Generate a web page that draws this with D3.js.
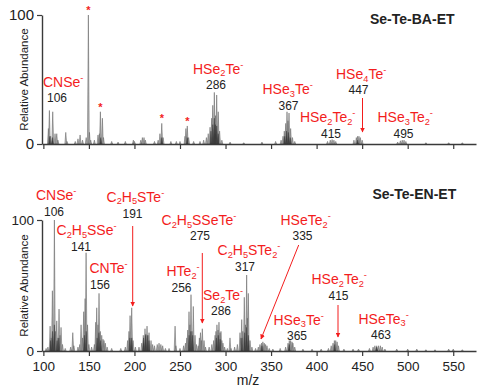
<!DOCTYPE html>
<html>
<head>
<meta charset="utf-8">
<script src="https://cdn.jsdelivr.net/npm/d3@7"></script>
<style>
  body { margin: 0; background: #fff; }
  svg { display: block; font-family: Arial, 'Liberation Sans', sans-serif; }
</style>
</head>
<body>
<svg id="chart" width="488" height="387"></svg>
<script>
// m/z ticks shared by both panels
const xTicks = [100, 150, 200, 250, 300, 350, 400, 450, 500, 550]
const yTicks = [0, 100]

// Se-Te-BA-ET spectrum, [m/z, relative abundance]
const baPeaks = [
  [105.5, 12], [106.6, 26], [108, 6], [110.3, 25], [112.8, 8], [114.7, 8], [116, 3],
  [124.6, 9], [126, 2], [135, 2], [138, 4], [140.3, 7], [143, 3], [147, 5],
  [149.4, 100], [150.6, 9], [152, 3], [156, 3], [160, 7], [161.5, 8], [162.6, 25],
  [164.8, 20], [166, 5], [175, 2], [182, 1.5], [190, 2], [198.8, 3], [200, 2],
  [207, 3], [208.7, 5], [210.5, 5], [212, 3], [222, 2], [226, 3], [228, 8], [230, 16],
  [231.5, 5], [240, 2], [246, 2], [250, 2], [255.5, 6], [256.5, 12], [258, 14],
  [259.5, 5], [265, 2], [272, 2], [276, 3], [279, 5], [281, 8], [283, 13], [284.8, 20],
  [286, 30], [287.7, 40], [289, 22], [290.3, 38], [292, 25], [293.5, 10], [296, 3],
  [305, 1.5], [320, 1], [340, 1.5], [355, 2], [361, 3], [363.1, 6], [364.5, 10],
  [366.1, 16], [367.5, 25], [368.6, 18], [369.7, 24], [371.5, 12], [373.5, 5], [376, 2],
  [412, 2], [415, 3], [417, 3.5], [419, 3], [421, 2], [441, 3], [443.6, 5], [445, 6],
  [446.5, 6], [448, 5], [450, 3], [489, 1.5], [492, 2.5], [494, 3], [496, 3], [498, 2],
  [520, 1], [545, 1], [560, 1],
]
const baInner = [
  [107, 6], [110, 5], [163, 5], [230, 5], [258, 5], [284, 10], [286, 15], [287.7, 20],
  [289, 15], [290.3, 14], [292, 8], [365, 6], [367, 10], [369, 9], [371, 5], [445, 3],
]
const baStars = [149.4, 162.6, 230, 258]

// Se-Te-EN-ET spectrum
const enPeaks = [
  [103, 2], [105, 3], [107.4, 19], [108.6, 10], [109.9, 46], [112.1, 100], [113.2, 15],
  [114.7, 23], [116, 10], [117.2, 32], [118.3, 12], [119.4, 18], [121, 5], [124, 2],
  [130, 3], [132.3, 14], [133.5, 4], [138, 3], [140, 5], [141.4, 20], [143, 10],
  [144.3, 30], [145.8, 40], [146.9, 75], [148.5, 20], [150, 5], [153, 3], [156, 5],
  [157.5, 22], [158.6, 33], [160, 20], [161.1, 44], [162.5, 15], [164.1, 12],
  [165.5, 9], [166.6, 8], [168, 6], [170, 3], [175, 2], [185, 2], [190, 3], [192.5, 8],
  [194, 15], [195.2, 27], [197, 33], [198.5, 8], [201, 3], [205, 3], [208, 6],
  [209.7, 12], [211.6, 17], [212.5, 13], [213.8, 19], [215, 12], [216, 14], [218.2, 8],
  [220, 5], [222, 4], [225, 5], [227, 6], [229, 5], [231, 4], [234, 2], [238, 2],
  [244.6, 19], [245.5, 4], [250, 2], [254, 4], [256, 6], [257.5, 10], [258.5, 16],
  [259.9, 30], [261, 20], [262.1, 43], [263.3, 15], [264.6, 34], [266.5, 12], [268, 5],
  [270, 4], [271.3, 10], [272.5, 14], [273.5, 8], [274.5, 17], [276.4, 8], [278, 3],
  [282, 3], [285, 5], [287, 8], [288.5, 12], [289.5, 15], [290.6, 20], [291.8, 16],
  [292.8, 22], [294, 14], [295, 15], [296, 8], [297.2, 6], [299, 3], [302, 2],
  [304.9, 10], [306, 2], [310, 3], [313, 5], [315.9, 14], [316.8, 10], [317.8, 24],
  [319, 15], [320.6, 41], [322, 20], [323.2, 58], [324, 25], [325, 44], [326.9, 8],
  [329, 3], [333, 2], [336, 3], [337.8, 5], [339.5, 6], [341, 7], [342.5, 6], [344, 5],
  [345.5, 4], [348, 2], [352, 1.5], [360, 2], [366, 3], [368.6, 6], [370, 8],
  [371.5, 8], [373, 7], [374, 6], [376, 3], [385, 1.5], [395, 1.5], [405, 1.5],
  [413, 2], [416, 4], [418, 6], [419.5, 8], [421, 8], [422.5, 7], [424, 4], [430, 1.5],
  [440, 1.5], [446, 1.5], [458, 2], [462, 3], [464, 4], [466, 4], [468, 4], [470, 4],
  [472, 3], [475, 1.5], [488, 1.5], [500, 1.5], [510, 1.5], [520, 1], [530, 1],
  [545, 1.5], [550, 1.5], [560, 1],
]
const enInner = [
  [108, 8], [110, 15], [112.1, 20], [115, 8], [117, 10], [145, 12], [147, 15],
  [159, 10], [161, 14], [163, 8], [195, 10], [197, 10], [210, 10], [212, 12], [214, 12],
  [216, 8], [260, 12], [262, 15], [264, 12], [290, 10], [292, 12], [294, 9], [318, 10],
  [321, 14], [323, 18], [325, 12], [340, 4], [370, 5], [420, 5], [466, 3],
]

// ion labels: formula parts, nominal mass
const baIons = [
  { f: [['CNSe'], ['-', 'sup']], mass: '106' },
  { f: [['HSe'], ['2', 'sub'], ['Te'], ['-', 'sup']], mass: '286' },
  { f: [['HSe'], ['3', 'sub'], ['Te'], ['-', 'sup']], mass: '367' },
  { f: [['HSe'], ['2', 'sub'], ['Te'], ['2', 'sub'], ['-', 'sup']], mass: '415' },
  { f: [['HSe'], ['4', 'sub'], ['Te'], ['-', 'sup']], mass: '447' },
  { f: [['HSe'], ['3', 'sub'], ['Te'], ['2', 'sub'], ['-', 'sup']], mass: '495' },
]
const enIons = [
  { f: [['CNSe'], ['-', 'sup']], mass: '106' },
  { f: [['C'], ['2', 'sub'], ['H'], ['5', 'sub'], ['SSe'], ['-', 'sup']], mass: '141' },
  { f: [['CNTe'], ['-', 'sup']], mass: '156' },
  { f: [['C'], ['2', 'sub'], ['H'], ['5', 'sub'], ['STe'], ['-', 'sup']], mass: '191' },
  { f: [['C'], ['2', 'sub'], ['H'], ['5', 'sub'], ['SSeTe'], ['-', 'sup']], mass: '275' },
  { f: [['HTe'], ['2', 'sub'], ['-', 'sup']], mass: '256' },
  { f: [['Se'], ['2', 'sub'], ['Te'], ['-', 'sup']], mass: '286' },
  { f: [['C'], ['2', 'sub'], ['H'], ['5', 'sub'], ['STe'], ['2', 'sub'], ['-', 'sup']], mass: '317' },
  { f: [['HSeTe'], ['2', 'sub'], ['-', 'sup']], mass: '335' },
  { f: [['HSe'], ['2', 'sub'], ['Te'], ['2', 'sub'], ['-', 'sup']], mass: '415' },
  { f: [['HSe'], ['3', 'sub'], ['Te'], ['-', 'sup']], mass: '365' },
  { f: [['HSeTe'], ['3', 'sub'], ['-', 'sup']], mass: '463' },
]

// label placement (px): formula left/baseline, mass centre/baseline, optional arrow
const baLayout = [
  { fx: 43, fy: 87, mx: 57, my: 101.5 },
  { fx: 193, fy: 73.5, mx: 216, my: 89 },
  { fx: 262.5, fy: 94, mx: 288.5, my: 109.5 },
  { fx: 300, fy: 122, mx: 331, my: 137.5 },
  { fx: 336, fy: 79, mx: 358.5, my: 94, arrow: [362.5, 98, 362.5, 132] },
  { fx: 377.5, fy: 122, mx: 403.5, my: 137.5 },
]
const enLayout = [
  { fx: 36, fy: 200, mx: 54, my: 216 },
  { fx: 56.5, fy: 235, mx: 81, my: 250.5 },
  { fx: 89.5, fy: 272.5, mx: 100, my: 289 },
  { fx: 106.5, fy: 201.5, mx: 132.5, my: 217.5, arrow: [132.7, 226, 132.7, 306] },
  { fx: 161.5, fy: 225, mx: 200, my: 240, arrow: [202.3, 253, 202.3, 323] },
  { fx: 166.5, fy: 276, mx: 181.5, my: 291.5 },
  { fx: 203, fy: 300, mx: 221, my: 315 },
  { fx: 217.5, fy: 255, mx: 245, my: 270.5 },
  { fx: 280.5, fy: 225, mx: 302.5, my: 240, arrow: [298.7, 245, 261, 339] },
  { fx: 311.5, fy: 284, mx: 338.5, my: 300, arrow: [338, 305, 338, 337] },
  { fx: 273.5, fy: 324.5, mx: 297, my: 339.5 },
  { fx: 358.5, fy: 323.5, mx: 381, my: 338.5 },
]

const RED = '#f31d1d'
const INK = '#222'
const svg = d3.select('#chart')

svg.append('defs')
  .append('marker')
  .attr('id', 'arrowhead')
  .attr('viewBox', '0 0 10 10')
  .attr('refX', 9)
  .attr('refY', 5)
  .attr('markerWidth', 5)
  .attr('markerHeight', 5)
  .attr('markerUnits', 'userSpaceOnUse')
  .attr('orient', 'auto')
  .append('path')
  .attr('d', 'M0,0 L10,5 L0,10 Z')
  .attr('fill', RED)

const xScale = d3.scaleLinear().domain([98.5, 575]).range([42, 476])

function richText(sel, parts, x, y, size, fill) {
  const t = sel.append('text')
    .attr('x', x)
    .attr('y', y)
    .attr('font-size', size)
    .attr('fill', fill)
  let shift = 0
  parts.forEach(([s, kind]) => {
    const target = kind === 'sub' ? size * 0.2 : kind === 'sup' ? -size * 0.4 : 0
    const ts = t.append('tspan').attr('dy', target - shift).text(s)
    if (kind) ts.attr('font-size', size * 0.66)
    shift = target
  })
  return t
}

function drawPanel({ top, bottom, peaks, inner, stars, ions, layout, title, titleX, titleY, labels, yTickSize }) {
  const yScale = d3.scaleLinear().domain([0, 100]).range([bottom, top])
  const g = svg.append('g')
  const hw = 1.0

  const peakPath = d =>
    `M${xScale(d[0] - hw)},${yScale(0)}L${xScale(d[0])},${yScale(d[1])}L${xScale(d[0] + hw)},${yScale(0)}Z`

  g.append('g')
    .selectAll('path')
    .data(peaks)
    .join('path')
    .attr('d', peakPath)
    .attr('fill', '#ababab')
    .attr('fill-opacity', 0.85)
    .attr('stroke', '#5a5a5a')
    .attr('stroke-width', 0.5)

  g.append('g')
    .selectAll('path')
    .data(inner)
    .join('path')
    .attr('d', peakPath)
    .attr('fill', '#444')
    .attr('stroke', '#2f2f2f')
    .attr('stroke-width', 0.4)

  // x axis
  const xAxis = g.append('g')
    .attr('transform', `translate(0, ${bottom})`)
    .call(d3.axisBottom(xScale).tickValues(xTicks).tickSize(5).tickSizeOuter(0)
      .tickFormat(labels ? d3.format('d') : ''))
  xAxis.select('.domain').attr('stroke', '#3a3a3a').attr('stroke-width', 1.6)
  xAxis.selectAll('.tick line').attr('stroke', '#3a3a3a').attr('stroke-width', 1.2)
  xAxis.selectAll('.tick text')
    .attr('font-size', 13.5)
    .attr('font-family', 'Arial, Liberation Sans, sans-serif')
    .attr('fill', INK)
    .attr('dy', '0.9em')

  // y axis
  const yAxis = g.append('g')
    .attr('transform', `translate(${xScale.range()[0]}, 0)`)
    .call(d3.axisLeft(yScale).tickValues(yTicks).tickSize(5).tickSizeOuter(0).tickPadding(3))
  yAxis.select('.domain').attr('stroke', '#3a3a3a').attr('stroke-width', 1.4)
  yAxis.selectAll('.tick line').attr('stroke', '#3a3a3a').attr('stroke-width', 1.2)
  yAxis.selectAll('.tick text')
    .attr('font-size', yTickSize)
    .attr('font-family', 'Arial, Liberation Sans, sans-serif')
    .attr('fill', INK)

  g.append('text')
    .attr('transform', `translate(${xScale.range()[0] - 14}, ${(top + bottom) / 2}) rotate(-90)`)
    .attr('text-anchor', 'middle')
    .attr('font-size', 11.5)
    .attr('fill', INK)
    .text('Relative Abundance')

  g.append('text')
    .attr('x', titleX)
    .attr('y', titleY)
    .attr('font-size', 14)
    .attr('font-weight', 'bold')
    .attr('fill', INK)
    .text(title)

  // asterisks on BA impurity peaks
  g.append('g')
    .selectAll('text')
    .data(stars.map(m => peaks.find(p => p[0] === m)))
    .join('text')
    .attr('x', d => xScale(d[0]))
    .attr('y', d => yScale(d[1]) - 1)
    .attr('text-anchor', 'middle')
    .attr('font-size', 11)
    .attr('font-weight', 'bold')
    .attr('fill', RED)
    .text('*')

  ions.forEach((ion, i) => {
    const L = layout[i]
    richText(g, ion.f, L.fx, L.fy, 14, RED)
    g.append('text')
      .attr('x', L.mx)
      .attr('y', L.my)
      .attr('text-anchor', 'middle')
      .attr('font-size', 12)
      .attr('fill', INK)
      .text(ion.mass)
    if (L.arrow) {
      g.append('line')
        .attr('x1', L.arrow[0])
        .attr('y1', L.arrow[1])
        .attr('x2', L.arrow[2])
        .attr('y2', L.arrow[3])
        .attr('stroke', RED)
        .attr('stroke-width', 1)
        .attr('marker-end', 'url(#arrowhead)')
    }
  })
}

drawPanel({
  top: 15, bottom: 144, peaks: baPeaks, inner: baInner, stars: baStars,
  ions: baIons, layout: baLayout, title: 'Se-Te-BA-ET', titleX: 370, titleY: 23.5,
  labels: false, yTickSize: 15,
})

drawPanel({
  top: 220, bottom: 351, peaks: enPeaks, inner: enInner, stars: [],
  ions: enIons, layout: enLayout, title: 'Se-Te-EN-ET', titleX: 372.5, titleY: 198.5,
  labels: true, yTickSize: 13.5,
})

svg.append('text')
  .attr('x', 248)
  .attr('y', 385)
  .attr('text-anchor', 'middle')
  .attr('font-size', 14)
  .attr('fill', INK)
  .text('m/z')
</script>
</body>
</html>
